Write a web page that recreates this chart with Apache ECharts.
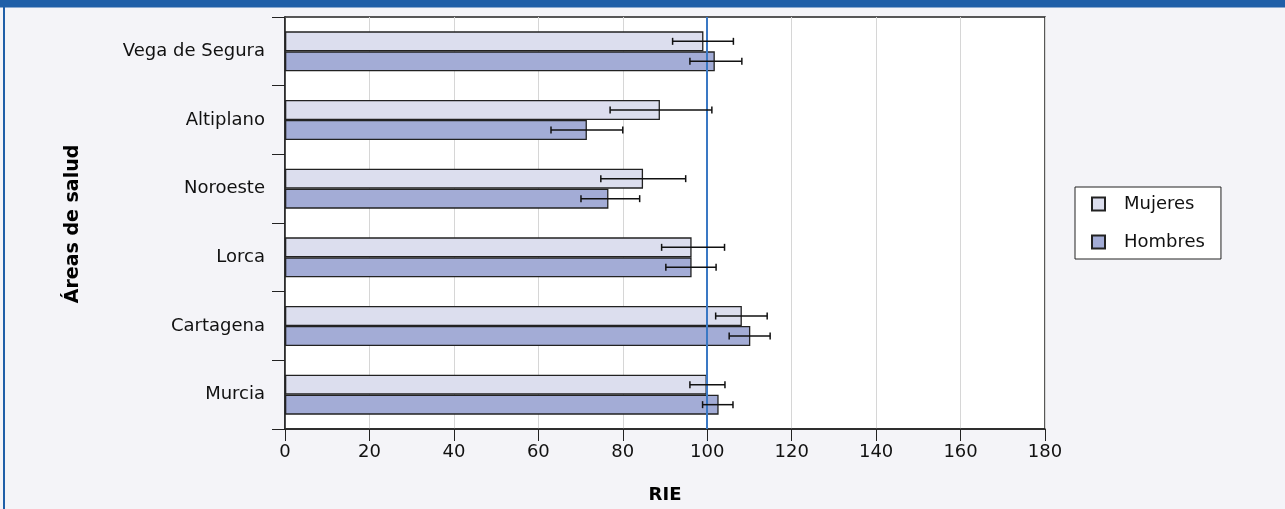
<!DOCTYPE html>
<html>
<head>
<meta charset="utf-8">
<script src="https://cdn.jsdelivr.net/npm/echarts@6/dist/echarts.min.js"></script>
<style>
html,body{margin:0;padding:0;background:#f4f4f8;}
#c{width:1285px;height:509px;}
</style>
</head>
<body>
<div id="c"></div>
<script>
const categories = ['Vega de Segura', 'Altiplano', 'Noroeste', 'Lorca', 'Cartagena', 'Murcia'];
const seriesNames = ['Mujeres', 'Hombres'];
const mujeres = [99.1, 88.8, 84.8, 96.3, 108.2, 99.9];
const hombres = [101.8, 71.5, 76.6, 96.3, 110.2, 102.7];
const mujeresLow = [91.8, 77.0, 74.8, 89.2, 102.0, 95.9];
const mujeresHigh = [106.2, 101.1, 94.9, 104.1, 114.2, 104.2];
const hombresLow = [95.9, 63.0, 70.1, 90.2, 105.2, 98.9];
const hombresHigh = [108.2, 80.0, 84.0, 102.1, 114.9, 106.1];
const xTicks = [0, 20, 40, 60, 80, 100, 120, 140, 160, 180];
const referenceValue = 100;

const FONT = '"DejaVu Sans", sans-serif';
const BAR_W = 20;

function errData(lo, hi) {
  return categories.map((c, i) => [i, lo[i], hi[i]]);
}
function errRender(offset) {
  return function (params, api) {
    const cat = api.value(0);
    const p1 = api.coord([api.value(1), cat]);
    const p2 = api.coord([api.value(2), cat]);
    const y = p1[1] + offset;
    const cap = 3.5;
    const style = { stroke: '#111', lineWidth: 1.5, fill: null };
    return {
      type: 'group',
      children: [
        { type: 'line', shape: { x1: p1[0], y1: y, x2: p2[0], y2: y }, style: style },
        { type: 'line', shape: { x1: p1[0], y1: y - cap, x2: p1[0], y2: y + cap }, style: style },
        { type: 'line', shape: { x1: p2[0], y1: y - cap, x2: p2[0], y2: y + cap }, style: style }
      ]
    };
  };
}

const chart = echarts.init(document.getElementById('c'), null, { renderer: 'canvas' });
chart.setOption({
  backgroundColor: '#f4f4f8',
  animation: false,
  textStyle: { fontFamily: FONT },
  graphic: [
    { type: 'rect', x: 0, y: 0, shape: { width: 1285, height: 7.5 }, style: { fill: '#1f5fa8' }, z: 100 },
    { type: 'rect', x: 3, y: 0, shape: { width: 2, height: 509 }, style: { fill: '#1f5fa8' }, z: 100 },
    { type: 'text', x: 73, y: 224, rotation: Math.PI / 2, style: { text: 'Áreas de salud', font: 'bold 19px "DejaVu Sans", sans-serif', fill: '#000', align: 'center', verticalAlign: 'middle' } }
  ],
  legend: {
    orient: 'vertical',
    left: 1075,
    top: 187,
    data: seriesNames,
    backgroundColor: '#fff',
    borderColor: '#222',
    borderWidth: 1,
    padding: [8, 16, 8, 16],
    itemGap: 20,
    itemWidth: 13,
    itemHeight: 13,
    icon: 'rect',
    textStyle: { fontFamily: FONT, fontSize: 18, color: '#111', padding: [0, 0, 0, 14] }
  },
  grid: {
    left: 285, right: 240, top: 17, bottom: 80,
    show: true, backgroundColor: '#fff', borderColor: '#222', borderWidth: 1.5
  },
  xAxis: {
    type: 'value', min: xTicks[0], max: xTicks[xTicks.length - 1], interval: xTicks[1] - xTicks[0],
    name: 'RIE', nameLocation: 'middle', nameGap: 57,
    nameTextStyle: { fontFamily: FONT, fontWeight: 'bold', fontSize: 18, color: '#000' },
    axisLine: { show: true, lineStyle: { color: '#222', width: 1.5 } },
    axisTick: { show: true, length: 12, lineStyle: { color: '#222', width: 1 } },
    axisLabel: { fontFamily: FONT, fontSize: 18, color: '#111', margin: 14 },
    splitLine: { show: true, lineStyle: { color: '#d6d6d6', width: 1 } }
  },
  yAxis: {
    type: 'category', data: categories, inverse: true,
    axisLine: { show: true, lineStyle: { color: '#222', width: 1.5 } },
    axisTick: { show: true, length: 13, lineStyle: { color: '#222', width: 1 } },
    axisLabel: { fontFamily: FONT, fontSize: 18, color: '#111', margin: 20 },
    splitLine: { show: false }
  },
  series: [
    {
      name: seriesNames[0], type: 'bar', data: mujeres, barWidth: BAR_W, barGap: '0%',
      itemStyle: { color: '#dcdeee', borderColor: '#222', borderWidth: 1.3 },
      markLine: {
        silent: true, symbol: 'none', label: { show: false },
        lineStyle: { color: '#3a78c4', width: 2, type: 'solid' },
        data: [{ xAxis: referenceValue }]
      },
      z: 2
    },
    {
      name: seriesNames[1], type: 'bar', data: hombres, barWidth: BAR_W, barGap: '0%',
      itemStyle: { color: '#a3acd6', borderColor: '#222', borderWidth: 1.3 },
      z: 2
    },
    {
      type: 'custom', data: errData(mujeresLow, mujeresHigh), renderItem: errRender(-BAR_W / 2),
      encode: { x: [1, 2], y: 0 }, z: 5, silent: true
    },
    {
      type: 'custom', data: errData(hombresLow, hombresHigh), renderItem: errRender(BAR_W / 2),
      encode: { x: [1, 2], y: 0 }, z: 5, silent: true
    }
  ]
});
</script>
</body>
</html>
